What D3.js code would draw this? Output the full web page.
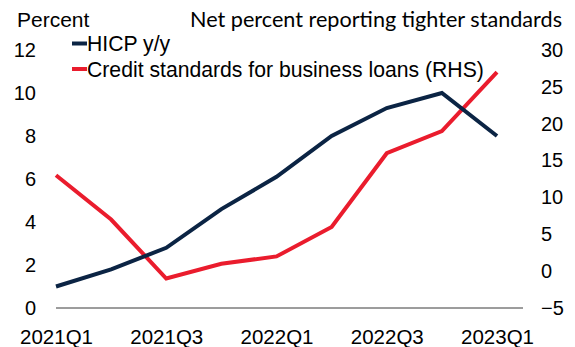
<!DOCTYPE html>
<html>
<head>
<meta charset="utf-8">
<script src="https://cdn.jsdelivr.net/npm/d3@7"></script>
<style>
  html, body { margin: 0; padding: 0; background: #fff; }
  svg { display: block; }
  text { font-family: "Liberation Sans", Arial, sans-serif; fill: #000; }
</style>
</head>
<body>
<svg id="chart" width="575" height="347"></svg>
<script>
// Quarterly categories
const quarters = ["2021Q1", "2021Q2", "2021Q3", "2021Q4", "2022Q1", "2022Q2", "2022Q3", "2022Q4", "2023Q1"];
const tickQuarters = ["2021Q1", "2021Q3", "2022Q1", "2022Q3", "2023Q1"];

// Euro area HICP inflation, % y/y (left axis)
const hicp = [1.0, 1.8, 2.8, 4.6, 6.1, 8.0, 9.3, 10.0, 8.0];
// Net percent of banks reporting tighter credit standards for business loans (right axis)
const creditStandards = [13, 7, -1, 1, 2, 6, 16, 19, 27];

const leftTicks = [0, 2, 4, 6, 8, 10, 12];
const rightTicks = [-5, 0, 5, 10, 15, 20, 25, 30];

const svg = d3.select("#chart");

const x = d3.scalePoint().domain(quarters).range([56, 497]);
const yL = d3.scaleLinear().domain([0, 12]).range([308, 50]);
const yR = d3.scaleLinear().domain([-5, 30]).range([308, 50]);

const navy = "#0b2444";
const red = "#ea1c2d";

// Baseline
svg.append("line")
  .attr("x1", 56).attr("x2", 523)
  .attr("y1", yL(0)).attr("y2", yL(0))
  .attr("stroke", "#3a3a3a").attr("stroke-width", 1);

// Left axis labels
const leftAxis = d3.axisLeft(yL).tickValues(leftTicks).tickSize(0).tickPadding(0);
const gL = svg.append("g").attr("transform", "translate(36,0)").call(leftAxis);
gL.select(".domain").remove();
gL.selectAll("text").style("font-size", "20px").style("font-family", "'Liberation Sans', Arial, sans-serif").attr("fill", "#000");

// Right axis labels
const rightAxis = d3.axisRight(yR).tickValues(rightTicks).tickSize(0).tickPadding(0);
const gR = svg.append("g").attr("transform", "translate(541,0)").call(rightAxis);
gR.select(".domain").remove();
gR.selectAll("text").style("font-size", "20px").style("font-family", "'Liberation Sans', Arial, sans-serif").attr("fill", "#000");

// Bottom axis labels
const bottomAxis = d3.axisBottom(x).tickValues(tickQuarters).tickSize(0).tickPadding(0);
const gB = svg.append("g").attr("transform", "translate(0,330)").call(bottomAxis);
gB.select(".domain").remove();
gB.selectAll("text").style("font-size", "20.5px").style("font-family", "'Liberation Sans', Arial, sans-serif").attr("fill", "#000").attr("dy", "0.7em");

// Series lines
const lineL = d3.line().x((d, i) => x(quarters[i])).y(d => yL(d));
const lineR = d3.line().x((d, i) => x(quarters[i])).y(d => yR(d));

svg.append("path").datum(creditStandards)
  .attr("d", lineR).attr("fill", "none")
  .attr("stroke", red).attr("stroke-width", 4).attr("stroke-linejoin", "miter");

svg.append("path").datum(hicp)
  .attr("d", lineL).attr("fill", "none")
  .attr("stroke", navy).attr("stroke-width", 4).attr("stroke-linejoin", "miter");

// Axis titles
svg.append("text").attr("x", 17).attr("y", 27)
  .style("font-size", "21px").text("Percent");
svg.append("text").attr("x", 190).attr("y", 27)
  .style("font-family", "Lato, 'Open Sans', sans-serif").style("font-size", "21px")
  .attr("textLength", 372).attr("lengthAdjust", "spacingAndGlyphs")
  .text("Net percent reporting tighter standards");

// Legend
const legend = [
  { label: "HICP y/y", color: navy, y: 43.5 },
  { label: "Credit standards for business loans (RHS)", color: red, y: 69 }
];
const lg = svg.append("g");
legend.forEach(d => {
  lg.append("line").attr("x1", 72).attr("x2", 87).attr("y1", d.y).attr("y2", d.y)
    .attr("stroke", d.color).attr("stroke-width", 4);
  lg.append("text").attr("x", 87).attr("y", d.y + 7.5)
    .style("font-size", "21.2px").text(d.label);
});
</script>
</body>
</html>
